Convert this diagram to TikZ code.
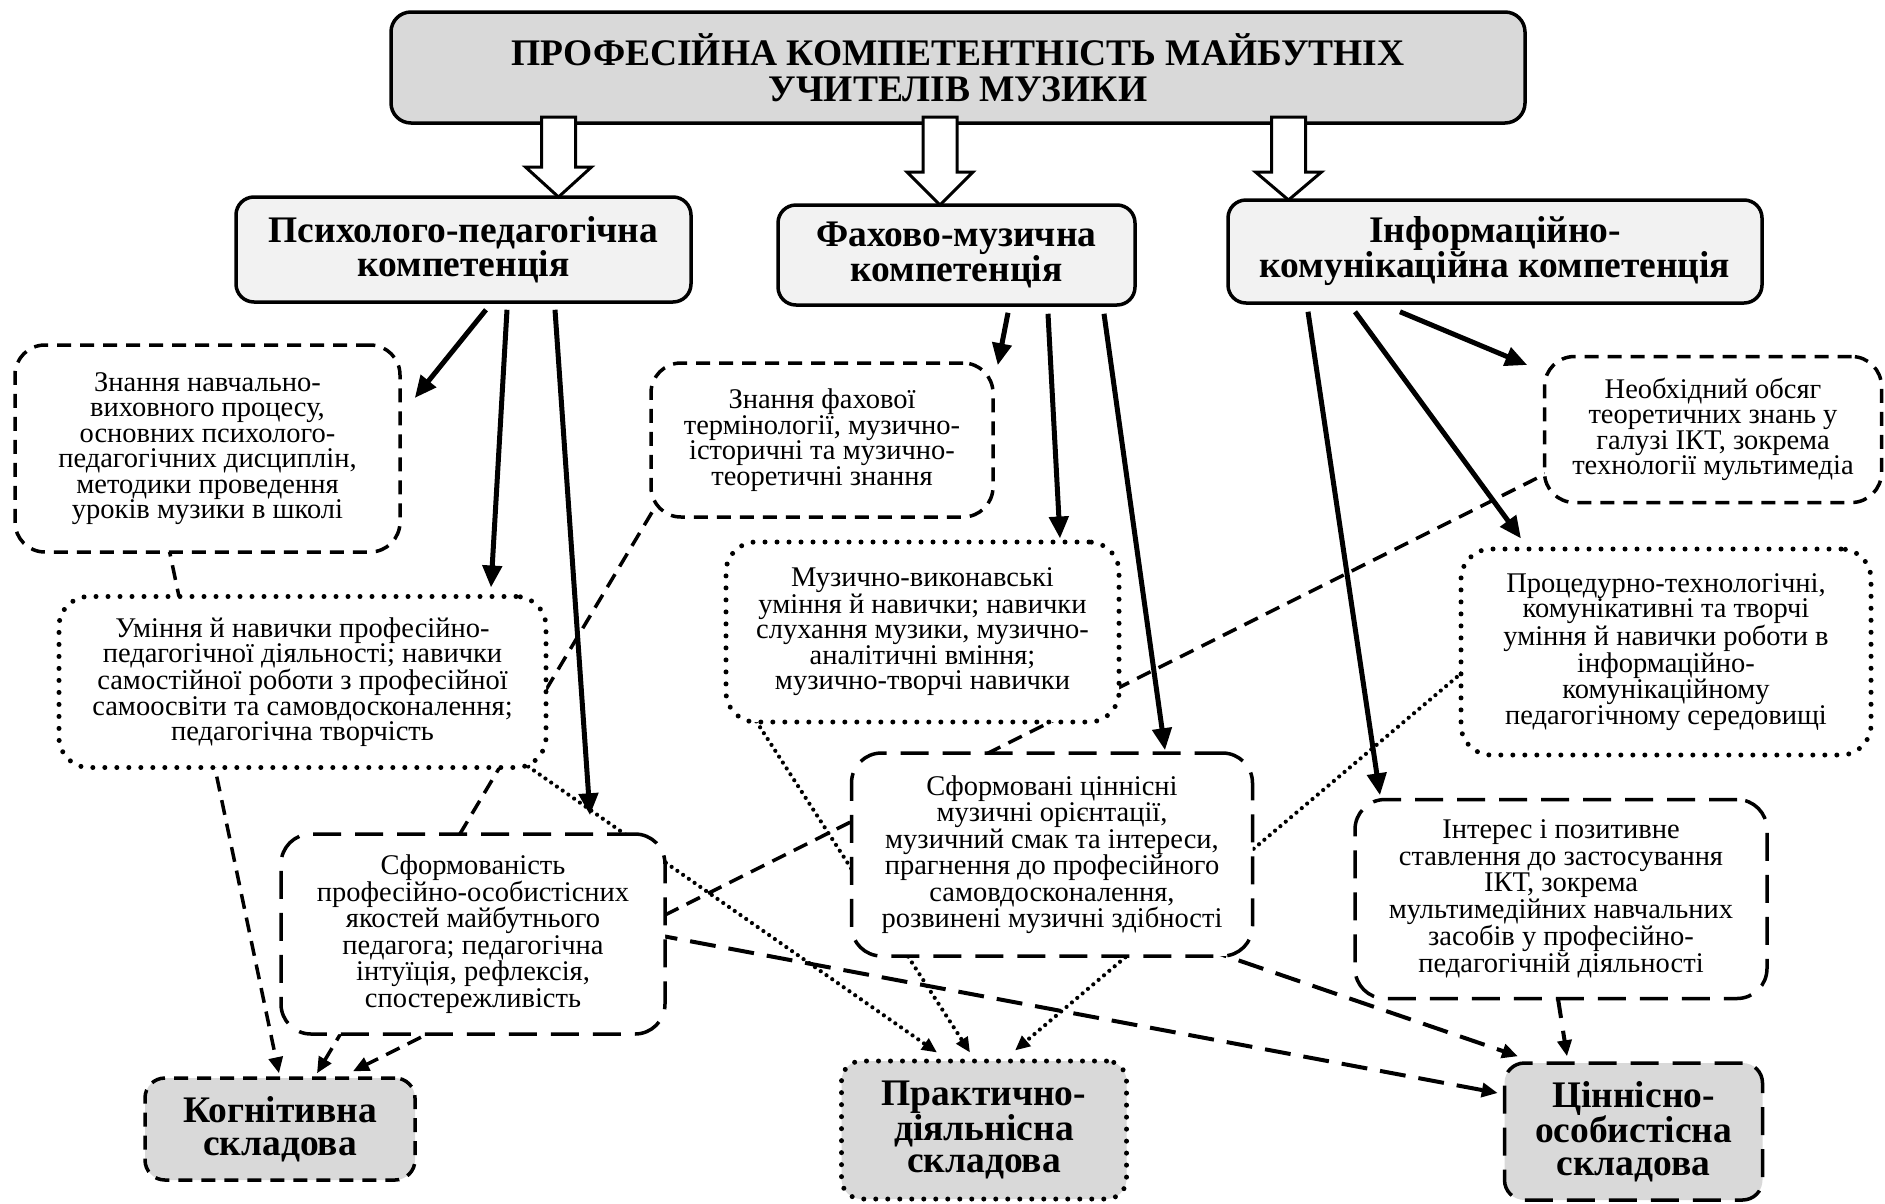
\documentclass[tikz,border=0pt]{standalone}
\usepackage{fontspec}
\setmainfont{Liberation Serif}
\usetikzlibrary{arrows.meta,calc}
\pgfdeclarelayer{bg}
\pgfsetlayers{bg,main}
\definecolor{hdrgray}{HTML}{D9D9D9}
\definecolor{compgray}{HTML}{F2F2F2}
\tikzset{
  titlebox/.style={draw, line width=3.5pt, rounded corners=20pt, fill=hdrgray, align=center, inner sep=0pt,
    font=\bfseries\fontsize{37.5pt}{36pt}\selectfont},
  compbox/.style={draw, line width=3.5pt, rounded corners=18pt, fill=compgray, align=center, inner sep=0pt,
    font=\bfseries\fontsize{37.5pt}{30pt}\selectfont},
  txtbox/.style={draw, fill=white, rounded corners=30pt, align=center, inner sep=0pt,
    font=\fontsize{28.5pt}{25.5pt}\selectfont},
  kbox/.style={txtbox, line width=3.5pt, dash pattern=on 14pt off 9pt},
  sbox/.style={txtbox, line width=5pt, line cap=round, dash pattern=on 0pt off 12pt},
  vbox/.style={txtbox, line width=3.5pt, dash pattern=on 28pt off 14pt, font=\fontsize{28.5pt}{26.5pt}\selectfont},
  compo/.style={draw, fill=hdrgray, rounded corners=20pt, align=center, inner sep=0pt,
    font=\bfseries\fontsize{37.5pt}{32.5pt}\selectfont},
  hollow/.style={draw, fill=white, line width=3pt, line join=miter},
  thickarr/.style={line width=5pt, -{Triangle[length=22pt,width=19pt]}},
  karr/.style={line width=3.5pt, dash pattern=on 15pt off 9pt, -{Triangle[length=16pt,width=14pt]}},
  parr/.style={line width=4.2pt, line cap=round, dash pattern=on 0pt off 7pt, -{Triangle[length=15pt,width=13pt]}},
  varr/.style={line width=4pt, dash pattern=on 26pt off 13pt, -{Triangle[length=16pt,width=14pt]}},
}
\newcommand\hollowarr[4]{%
  \draw[hollow] (#1-17,#2) -- (#1+17,#2) -- (#1+17,#3) -- (#1+33,#3) -- (#1,#4) -- (#1-33,#3) -- (#1-17,#3) -- cycle;}
\begin{document}
\begin{tikzpicture}[x=1pt,y=-1pt]
\useasboundingbox (0,0) rectangle (1885,1203);
\begin{pgfonlayer}{bg}
  \fill[white] (0,0) rectangle (1885,1203);
\end{pgfonlayer}

% top
\node[titlebox, minimum width=1134pt, minimum height=111pt] (title) at (958,67.5)
  {ПРОФЕСІЙНА КОМПЕТЕНТНІСТЬ МАЙБУТНІХ\\УЧИТЕЛІВ МУЗИКИ};

% competences
\node[compbox, minimum width=455pt, minimum height=105pt] (psych) at (463.5,249.5)
  {Психолого-педагогічна\\компетенція};
\node[compbox, minimum width=357pt, minimum height=100pt] (fakh) at (956.5,255)
  {Фахово-музична\\компетенція};
\node[compbox, minimum width=534pt, minimum height=103pt] (info) at (1495,251.5)
  {Інформаційно-\\комунікаційна компетенція};

% hollow block arrows
\hollowarr{558.5}{117}{167}{197}
\hollowarr{940}{117}{172}{205}
\hollowarr{1288.5}{117}{172}{200}

% second level
\node[kbox, minimum width=385pt, minimum height=207pt] (A) at (207.5,448.5)
  {Знання навчально-\\виховного процесу,\\основних психолого-\\педагогічних дисциплін,\\методики проведення\\уроків музики в школі};
\node[sbox, minimum width=487pt, minimum height=171pt] (B) at (302.5,682)
  {Уміння й навички професійно-\\педагогічної діяльності; навички\\самостійної роботи з професійної\\самоосвіти та самовдосконалення;\\педагогічна творчість};
\node[kbox, minimum width=342pt, minimum height=154pt] (C) at (822,440)
  {Знання фахової\\термінології, музично-\\історичні та музично-\\теоретичні знання};
\node[sbox, minimum width=393pt, minimum height=180pt] (D) at (922.5,632)
  {Музично-виконавські\\уміння й навички; навички\\слухання музики, музично-\\аналітичні вміння;\\музично-творчі навички};
\node[kbox, minimum width=337pt, minimum height=146pt] (E) at (1713,429.5)
  {Необхідний обсяг\\теоретичних знань у\\галузі ІКТ, зокрема\\технології мультимедіа};
\node[sbox, minimum width=410pt, minimum height=206pt] (F) at (1666,652)
  {Процедурно-технологічні,\\комунікативні та творчі\\уміння й навички роботи в\\інформаційно-\\комунікаційному\\педагогічному середовищі};
\node[vbox, minimum width=384pt, minimum height=200pt] (G) at (473,934)
  {Сформованість\\професійно-особистісних\\якостей майбутнього\\педагога; педагогічна\\інтуїція, рефлексія,\\спостережливість};
\node[vbox, minimum width=401pt, minimum height=203pt] (H) at (1052,854.5)
  {Сформовані ціннісні\\музичні орієнтації,\\музичний смак та інтереси,\\прагнення до професійного\\самовдосконалення,\\розвинені музичні здібності};
\node[vbox, minimum width=412pt, minimum height=199pt] (I) at (1561,899)
  {Інтерес і позитивне\\ставлення до застосування\\ІКТ, зокрема\\мультимедійних навчальних\\засобів у професійно-\\педагогічній діяльності};

% components
\node[compo, line width=3.5pt, dash pattern=on 14pt off 9pt, minimum width=270pt, minimum height=102pt] (cog) at (280,1129)
  {Когнітивна\\складова};
\node[compo, line width=5pt, line cap=round, dash pattern=on 0pt off 12pt, minimum width=285pt, minimum height=138pt] (prac) at (984,1130)
  {Практично-\\діяльнісна\\складова};
\node[compo, line width=3.5pt, dash pattern=on 28pt off 14pt, minimum width=258pt, minimum height=137pt] (val) at (1633.5,1131.5)
  {Ціннісно-\\особистісна\\складова};

\begin{pgfonlayer}{bg}
  % thick solid arrows
  \draw[thickarr] ($(psych.south)+(22.5,6)$) -- ($(A.east)+(13,-50.5)$);
  \draw[thickarr] ($(psych.south)+(43.5,6)$) -- ($(B.north)+(188.5,-6.5)$);
  \draw[thickarr] ($(psych.south)+(91.5,6)$) -- ($(G.north)+(117,-17)$);
  \draw[thickarr] ($(fakh.south)+(51.5,6)$) -- ($(C.north east)+(3,4)$);
  \draw[thickarr] ($(fakh.south)+(91.5,7)$) -- ($(D.north)+(137.5,-1)$);
  \draw[thickarr] ($(fakh.south)+(147.5,7)$) -- ($(H.north)+(113,-1)$);
  \draw[thickarr] ($(info.south)+(-95,7)$) -- ($(E.west)+(-15.5,-64.5)$);
  \draw[thickarr] ($(info.south)+(-140,7)$) -- ($(F.north)+(-145,-8)$);
  \draw[thickarr] ($(info.south)+(-187,7)$) -- ($(I.north)+(-181,-2.5)$);
  % knowledge -> cognitive
  \draw[karr] ($(A.south)+(-40,-12)$) -- ($(cog.north)+(-1,-3)$);
  \draw[karr] ($(C.south west)+(15,-27)$) -- ($(cog.north)+(37,-3)$);
  \draw[karr] ($(E.west)+(15.5,38)$) -- ($(cog.north)+(73,-5)$);
  % skills -> practical
  \draw[parr] ($(B.south east)+(-26,-7.5)$) -- ($(prac.north)+(-47,-6)$);
  \draw[parr] ($(D.south west)+(29,-9)$) -- ($(prac.north)+(-14,-6)$);
  \draw[parr] ($(F.west)+(9,16)$) -- ($(prac.north)+(31,-8)$);
  % values -> value component
  \draw[varr] ($(G.east)+(-15,0)$) -- ($(val.west)+(-5,-38.5)$);
  \draw[varr] ($(H.south east)+(-52.5,-10)$) -- ($(val.north)+(-115.5,-5)$);
  \draw[varr] ($(I.south)+(-4,-8)$) -- ($(val.north)+(-66.5,-5)$);
\end{pgfonlayer}
\end{tikzpicture}
\end{document}
